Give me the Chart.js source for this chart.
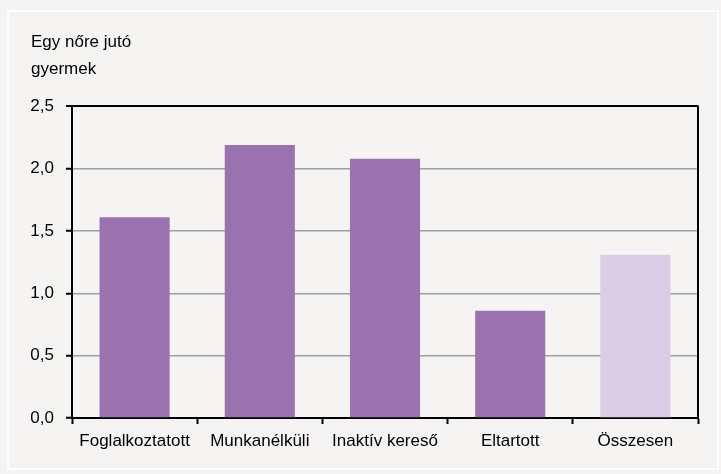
<!DOCTYPE html>
<html>
<head>
<meta charset="utf-8">
<script src="https://cdn.jsdelivr.net/npm/chart.js@4"></script>
<style>
    html, body { margin: 0; padding: 0; background: #f5f4f2; }
    #keret { position: absolute; left: 7px; top: 10px; width: 708px; height: 456px; border: 2px solid #ffffff; }
    #doboz { position: absolute; left: 0; top: 0; width: 721px; height: 474px; }
</style>
</head>
<body>
<div id="keret"></div>
<div id="doboz"><canvas id="grafikon"></canvas></div>
<script>
const kategoriak = ["Foglalkoztatott", "Munkanélküli", "Inaktív kereső", "Eltartott", "Összesen"];
const ertekek = [1.61, 2.19, 2.08, 0.86, 1.31];
const oszlopSzinek = ["#9b72b0", "#9b72b0", "#9b72b0", "#9b72b0", "#dacde6"];
const cimSorok = ["Egy nőre jutó", "gyermek"];

const FONT = "'Liberation Sans', Arial, sans-serif";

// jobb oldali keretvonal
const jobbKeret = {
    id: "jobbKeret",
    afterDraw(chart) {
        const { ctx, chartArea } = chart;
        ctx.save();
        ctx.strokeStyle = "#000";
        ctx.lineWidth = 2;
        ctx.beginPath();
        ctx.moveTo(chartArea.right, chartArea.top - 1);
        ctx.lineTo(chartArea.right, chartArea.bottom);
        ctx.stroke();
        ctx.restore();
    }
};

new Chart(document.getElementById("grafikon").getContext("2d"), {
    type: "bar",
    data: {
        labels: kategoriak,
        datasets: [{
            data: ertekek,
            backgroundColor: oszlopSzinek,
            categoryPercentage: 1,
            barPercentage: 0.56
        }]
    },
    options: {
        responsive: true,
        maintainAspectRatio: false,
        animation: false,
        layout: { padding: { left: 31, right: 23, top: 29, bottom: 14 } },
        plugins: {
            legend: { display: false },
            tooltip: { enabled: false },
            title: {
                display: true,
                text: cimSorok,
                align: "start",
                color: "#000",
                font: { family: FONT, size: 17, weight: "normal", lineHeight: 1.6 },
                padding: { top: 0, bottom: 23 }
            }
        },
        scales: {
            x: {
                offset: true,
                grid: { offset: true, drawOnChartArea: false, drawTicks: true, tickLength: 6, tickColor: "#000", tickWidth: 2 },
                border: { color: "#000", width: 2 },
                ticks: { color: "#000", font: { family: FONT, size: 17 }, padding: 7, maxRotation: 0, autoSkip: false },
                afterFit: s => { s.height = 474 - 418 - 14; }
            },
            y: {
                min: 0,
                max: 2.5,
                ticks: {
                    stepSize: 0.5,
                    color: "#000",
                    font: { family: FONT, size: 17 },
                    padding: 12,
                    callback: v => v.toFixed(1).replace(".", ",")
                },
                grid: {
                    color: c => c.tick.value === 2.5 ? "#000" : "#a0a0a0",
                    lineWidth: c => c.tick.value === 2.5 ? 2 : 1.5,
                    tickColor: "#000",
                    tickLength: 6,
                    tickWidth: 2
                },
                border: { color: "#000", width: 2 },
                afterFit: s => { s.width = 72 - 31; }
            }
        }
    },
    plugins: [jobbKeret]
});
</script>
</body>
</html>
